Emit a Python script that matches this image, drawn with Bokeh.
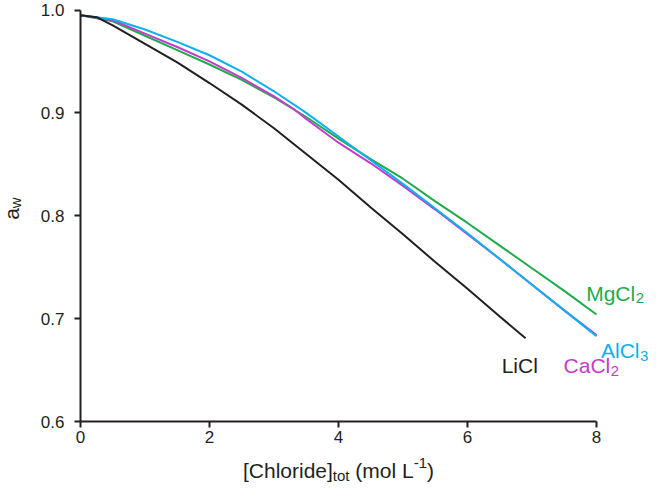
import math
from bokeh.plotting import figure
from bokeh.models import FixedTicker, NumeralTickFormatter, Range1d, Label
from bokeh.embed import file_html
from bokeh.resources import INLINE

# ---------------- data ----------------
licl_x = [0, 0.25, 0.5, 1, 1.5, 2, 2.5, 3, 3.5, 4, 4.5, 5, 5.5, 6, 6.5, 6.9]
licl_y = [0.995, 0.993, 0.985, 0.967, 0.949, 0.929, 0.908, 0.885, 0.860, 0.835,
          0.808, 0.782, 0.755, 0.729, 0.702, 0.681]

mgcl2_x = [0, 0.5, 1, 1.5, 2, 2.5, 3, 3.5, 4, 4.5, 5, 5.5, 6, 6.5, 7, 7.5, 8]
mgcl2_y = [0.995, 0.989, 0.975, 0.961, 0.947, 0.932, 0.915, 0.896, 0.875, 0.855,
           0.836, 0.814, 0.793, 0.771, 0.749, 0.727, 0.704]

cacl2_x = [0, 0.5, 1, 1.5, 2, 2.5, 3, 3.3, 3.5, 4, 4.5, 5, 5.5, 6, 6.5, 7, 7.5, 8]
cacl2_y = [0.995, 0.990, 0.977, 0.964, 0.950, 0.934, 0.916, 0.904, 0.894, 0.871,
           0.851, 0.829, 0.806, 0.782, 0.758, 0.733, 0.708, 0.684]

alcl3_x = [0, 0.5, 1, 1.5, 2, 2.5, 3, 3.5, 4, 4.5, 5, 5.5, 6, 6.5, 7, 7.5, 8]
alcl3_y = [0.995, 0.991, 0.981, 0.969, 0.956, 0.940, 0.921, 0.900, 0.877, 0.854,
           0.831, 0.807, 0.783, 0.758, 0.733, 0.708, 0.683]

x_ticks = [0, 2, 4, 6, 8]
y_ticks = [0.6, 0.7, 0.8, 0.9, 1.0]

# series labels: (main text, subscript, x, y of baseline)
series_labels = [
    ("LiCl", "", 6.53, 0.654),
    ("CaCl", "2", 7.49, 0.654),
    ("AlCl", "3", 8.07, 0.669),
    ("MgCl", "2", 7.84, 0.7245),
]

# ---------------- styling ----------------
FONT = "Liberation Sans"
INK = "#231f20"
COL = {"LiCl": "#231f20", "MgCl": "#1fab4b", "CaCl": "#c43ccc", "AlCl": "#0bb0f0"}

ARIAL = {'[': 278, 'C': 722, 'h': 556, 'l': 222, 'o': 556, 'r': 333, 'i': 222,
         'd': 556, 'e': 556, ']': 278, 't': 278, ' ': 278, '(': 333, 'm': 833,
         'L': 556, '-': 333, '1': 556, ')': 333, 'M': 833, 'g': 556, 'a': 556,
         'A': 667, 'w': 722, '2': 556, '3': 556}


def tw(s, size):
    return sum(ARIAL.get(c, 556) for c in s) * size / 1000.0


W, H = 650, 484
X0_PX, Y_TOP_PX, Y_BOT_PX = 80, 9.5, 421        # canvas px of x=0, y=1.0, y=0.6
XS = 64.5                                       # px per x unit
YS = (Y_BOT_PX - Y_TOP_PX) / 0.4                # px per y unit

p = figure(width=W, height=H,
           x_range=Range1d(-X0_PX / XS, (W - X0_PX) / XS),
           y_range=Range1d(0.6 - (H - Y_BOT_PX) / YS, 1.0 + Y_TOP_PX / YS),
           output_backend="svg", toolbar_location=None,
           min_border=0)
p.outline_line_color = None
p.grid.visible = False
p.background_fill_color = "white"

for ax in (p.xaxis[0], p.yaxis[0]):
    ax.axis_line_color = INK
    ax.axis_line_width = 2
    ax.major_tick_line_color = INK
    ax.major_tick_line_width = 2
    ax.major_tick_out = 6
    ax.major_tick_in = 0
    ax.minor_tick_line_color = None
    ax.major_label_text_font = FONT
    ax.major_label_text_font_size = "17px"
    ax.major_label_text_color = INK

p.xaxis.ticker = FixedTicker(ticks=x_ticks)
p.yaxis.ticker = FixedTicker(ticks=y_ticks)
p.xaxis.formatter = NumeralTickFormatter(format="0")
p.yaxis.formatter = NumeralTickFormatter(format="0.0")
p.xaxis.bounds = (0, 8)
p.yaxis.bounds = (0.6, 1.0)
p.xaxis.fixed_location = 0.6
p.yaxis.fixed_location = 0
p.xaxis.major_label_standoff = 3
p.yaxis.major_label_standoff = 10

# curves
p.line(mgcl2_x, mgcl2_y, line_color=COL["MgCl"], line_width=2)
p.line(cacl2_x, cacl2_y, line_color=COL["CaCl"], line_width=2)
p.line(alcl3_x, alcl3_y, line_color=COL["AlCl"], line_width=2)
p.line(licl_x, licl_y, line_color=COL["LiCl"], line_width=2)

# series labels
MAIN = 21
SUB = 15
for main, sub, lx, ly in series_labels:
    c = COL[main]
    p.add_layout(Label(x=lx, y=ly, text=main, text_font=FONT,
                       text_font_size=f"{MAIN}px", text_color=c,
                       text_align="left", text_baseline="alphabetic"))
    if sub:
        p.add_layout(Label(x=lx, y=ly, text=sub, text_font=FONT,
                           x_offset=tw(main, MAIN) + 0.5, y_offset=-5,
                           text_font_size=f"{SUB}px", text_color=c,
                           text_align="left", text_baseline="alphabetic"))

# x axis title: [Chloride]_tot (mol L^-1)   (text, size, raise, gap before)
pieces = [("[Chloride]", MAIN, 0, 0), ("tot", SUB, -5, 0),
          ("(mol L", MAIN, 0, tw(" ", MAIN)), ("-1", SUB, 8, 0), (")", MAIN, 0, 0)]
total = sum(tw(s, sz) + g for s, sz, _, g in pieces)
cur = -total / 2.0
for s, sz, dy, gap in pieces:
    cur += gap
    p.add_layout(Label(x=4, y=0.6, text=s, text_font=FONT,
                       text_font_size=f"{sz}px", text_color=INK,
                       x_offset=cur, y_offset=-49 + dy,
                       text_align="left", text_baseline="alphabetic"))
    cur += tw(s, sz)

# y axis title: a_w (rotated)
p.add_layout(Label(x=0, y=0.796, text="a", text_font=FONT,
                   text_font_size=f"{MAIN}px", text_color=INK,
                   x_offset=-69, y_offset=0, angle=math.pi / 2,
                   text_align="left", text_baseline="alphabetic"))
p.add_layout(Label(x=0, y=0.796, text="w", text_font=FONT,
                   text_font_size=f"{SUB}px", text_color=INK,
                   x_offset=-65, y_offset=tw("a", MAIN), angle=math.pi / 2,
                   text_align="left", text_baseline="alphabetic"))

open("out.html", "w").write(file_html(p, INLINE))
